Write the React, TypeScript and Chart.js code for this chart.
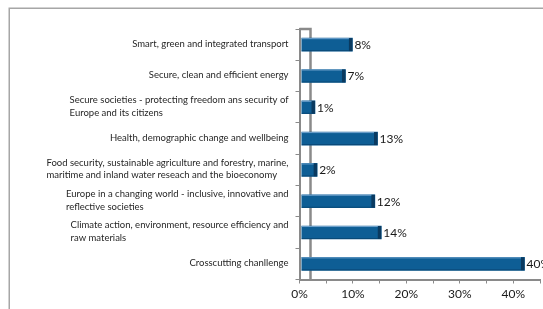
import React, { useEffect, useRef } from "react";
import { Chart, registerables } from "chart.js";

Chart.register(...registerables);

const categories: string[][] = [
  ["Smart, green and integrated transport"],
  ["Secure, clean and efficient energy"],
  ["Secure societies - protecting freedom ans security of", "Europe and its citizens"],
  ["Health, demographic change and wellbeing"],
  ["Food security, sustainable agriculture and forestry, marine,", "maritime and inland water reseach and the bioeconomy"],
  ["Europe in a changing world - inclusive, innovative and", "reflective societies"],
  ["Climate action, environment, resource efficiency and", "raw materials"],
  ["Crosscutting chanllenge"],
];
const shares = [8.2, 6.9, 1.2, 12.9, 1.6, 12.4, 13.6, 40.4];
const axisMax = 45;
const axisStep = 5;
const labelStep = 10;
const depthShift = 1.7;
const barStart = -1.27;

const FONT = "Lato, 'Noto Sans', sans-serif";
const AXIS_GRAY = "#8a8a8a";

export default function App() {
  const ref = useRef<HTMLCanvasElement>(null);

  useEffect(() => {
    document.body.style.margin = "0";
    const canvas = ref.current!;

    const framePlugin = {
      id: "frame",
      beforeDraw(chart: any) {
        const ctx = chart.ctx;
        ctx.save();
        ctx.fillStyle = "#ffffff";
        ctx.fillRect(0, 0, chart.width, chart.height);
        ctx.strokeStyle = "#a6a6a6";
        ctx.lineWidth = 1.5;
        ctx.strokeRect(9.25, 8.25, chart.width + 20, chart.height + 20);
        ctx.restore();
      },
    };

    const wallPlugin = {
      id: "wall",
      beforeDatasetsDraw(chart: any) {
        const ctx = chart.ctx;
        const { left, top, bottom } = chart.chartArea;
        const x = left + 11;
        ctx.save();
        ctx.strokeStyle = AXIS_GRAY;
        ctx.lineWidth = 2.5;
        ctx.beginPath();
        ctx.moveTo(left, top);
        ctx.lineTo(x, top);
        ctx.lineTo(x, bottom);
        ctx.stroke();
        ctx.restore();
      },
    };

    const barDecorPlugin = {
      id: "barDecor",
      afterDatasetsDraw(chart: any) {
        const ctx = chart.ctx;
        const meta = chart.getDatasetMeta(0);
        ctx.save();
        meta.data.forEach((el: any, i: number) => {
          const { x, y, base, height } = el.getProps(["x", "y", "base", "height"], true);
          const top = y - height / 2;
          ctx.fillStyle = "#0a3a60";
          ctx.fillRect(x - 3.5, top, 3.5, height);
          ctx.fillStyle = "rgba(130,175,215,0.85)";
          ctx.fillRect(base, top, x - 3.5 - base, 1);
          ctx.fillStyle = "rgba(8,60,100,0.6)";
          ctx.fillRect(base, top + height - 1, x - 3.5 - base, 1);
          ctx.fillStyle = "#1a1a1a";
          ctx.font = `12px ${FONT}`;
          ctx.textBaseline = "middle";
          ctx.textAlign = "left";
          ctx.fillText(Math.round(shares[i]) + "%", x + 2, y + 0.5);
        });
        ctx.restore();
      },
    };

    const catLabelPlugin = {
      id: "catLabels",
      afterDraw(chart: any) {
        const ctx = chart.ctx;
        const ys = chart.scales.y;
        ctx.save();
        ctx.font = `9.5px ${FONT}`;
        ctx.fillStyle = "#262626";
        ctx.textBaseline = "middle";
        ctx.textAlign = "left";
        const lh = 12.5;
        categories.forEach((lines, i) => {
          const cy = ys.getPixelForValue(i) - 1;
          const w = Math.max(...lines.map((l) => ctx.measureText(l).width));
          const xLeft = ys.right - 11 - w;
          lines.forEach((l, j) => {
            ctx.fillText(l, xLeft, cy + (j - (lines.length - 1) / 2) * lh);
          });
        });
        ctx.restore();
      },
    };

    const chart = new Chart(canvas, {
      type: "bar",
      data: {
        labels: categories.map((c) => c.join(" ")),
        datasets: [
          {
            data: shares,
            xAxisID: "x2",
            yAxisID: "y",
            backgroundColor: "#0e5e95",
            base: barStart,
            barThickness: 13,
          } as any,
        ],
      },
      options: {
        indexAxis: "y",
        animation: false,
        responsive: false,
        maintainAspectRatio: false,
        layout: { padding: { top: 29, right: 3, left: 0, bottom: 0 } },
        plugins: { legend: { display: false }, tooltip: { enabled: false } },
        scales: {
          y: {
            type: "category",
            offset: true,
            grid: { offset: true, drawOnChartArea: false, tickLength: 4, color: AXIS_GRAY, lineWidth: 1 },
            border: { color: AXIS_GRAY, width: 2 },
            ticks: { display: false },
            afterFit(s: any) {
              s.width = 299.5;
            },
          },
          x: {
            type: "linear",
            position: "bottom",
            min: 0,
            max: axisMax,
            ticks: {
              stepSize: axisStep,
              autoSkip: false,
              maxRotation: 0,
              callback: (v: any) => (Number(v) % labelStep === 0 ? v + "%" : ""),
              font: { family: FONT, size: 12 },
              color: "#1a1a1a",
              padding: 3,
            },
            grid: { drawOnChartArea: false, tickLength: 4, color: AXIS_GRAY },
            border: { color: AXIS_GRAY, width: 2 },
            afterFit(s: any) {
              s.height = 29.5;
            },
          },
          x2: {
            type: "linear",
            axis: "x",
            position: "bottom",
            min: -depthShift,
            max: axisMax - depthShift,
            display: false,
          },
        } as any,
      },
      plugins: [framePlugin, wallPlugin, barDecorPlugin, catLabelPlugin],
    });

    return () => chart.destroy();
  }, []);

  return <canvas ref={ref} width={543} height={309} style={{ display: "block" }} />;
}
